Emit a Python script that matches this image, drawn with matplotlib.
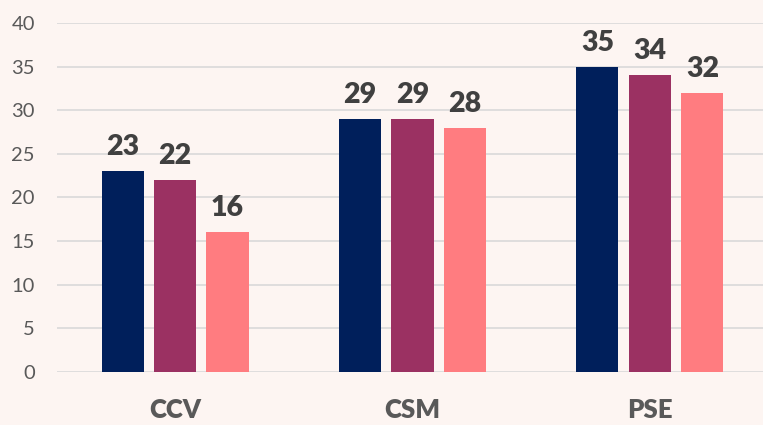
import matplotlib.pyplot as plt
import numpy as np

categories = ["CCV", "CSM", "PSE"]
series_a = [23, 29, 35]
series_b = [22, 29, 34]
series_c = [16, 28, 32]
yticks = [0, 5, 10, 15, 20, 25, 30, 35, 40]

BG = "#FDF5F2"
COLORS = ["#001F5B", "#9B3162", "#FF7C80"]

plt.rcParams["font.family"] = ["Lato", "DejaVu Sans"]

fig = plt.figure(figsize=(7.63, 4.25), dpi=100, facecolor=BG)
ax = fig.add_axes([0.0747, 0.1247, 0.9253, 0.8212], facecolor=BG)

x = np.arange(len(categories))
w, step = 0.177, 0.221
for i, (vals, c) in enumerate(zip([series_a, series_b, series_c], COLORS)):
    bars = ax.bar(x + (i - 1) * step, vals, width=w, color=c, zorder=2)
    for b, v in zip(bars, vals):
        ax.annotate(str(v), (b.get_x() + b.get_width() / 2, v), xytext=(0, 8),
                    textcoords="offset points", ha="center", va="bottom",
                    fontsize=20.5, fontweight="heavy", color="#404040")

ax.set_xlim(-0.497, 2.476)
ax.set_ylim(0, 40)
ax.set_yticks(yticks)
ax.set_xticks(x)
ax.set_xticklabels(categories, fontsize=18.5, fontweight="heavy", color="#595959")
ax.tick_params(axis="y", length=0, pad=16, labelsize=14.5, labelcolor="#595959")
ax.tick_params(axis="x", length=0, pad=19)
ax.grid(axis="y", color="#D9D9D9", lw=1.2, zorder=0)
ax.set_axisbelow(True)
for s in ax.spines.values():
    s.set_visible(False)

fig.savefig("out.png", dpi=100, facecolor=BG)
